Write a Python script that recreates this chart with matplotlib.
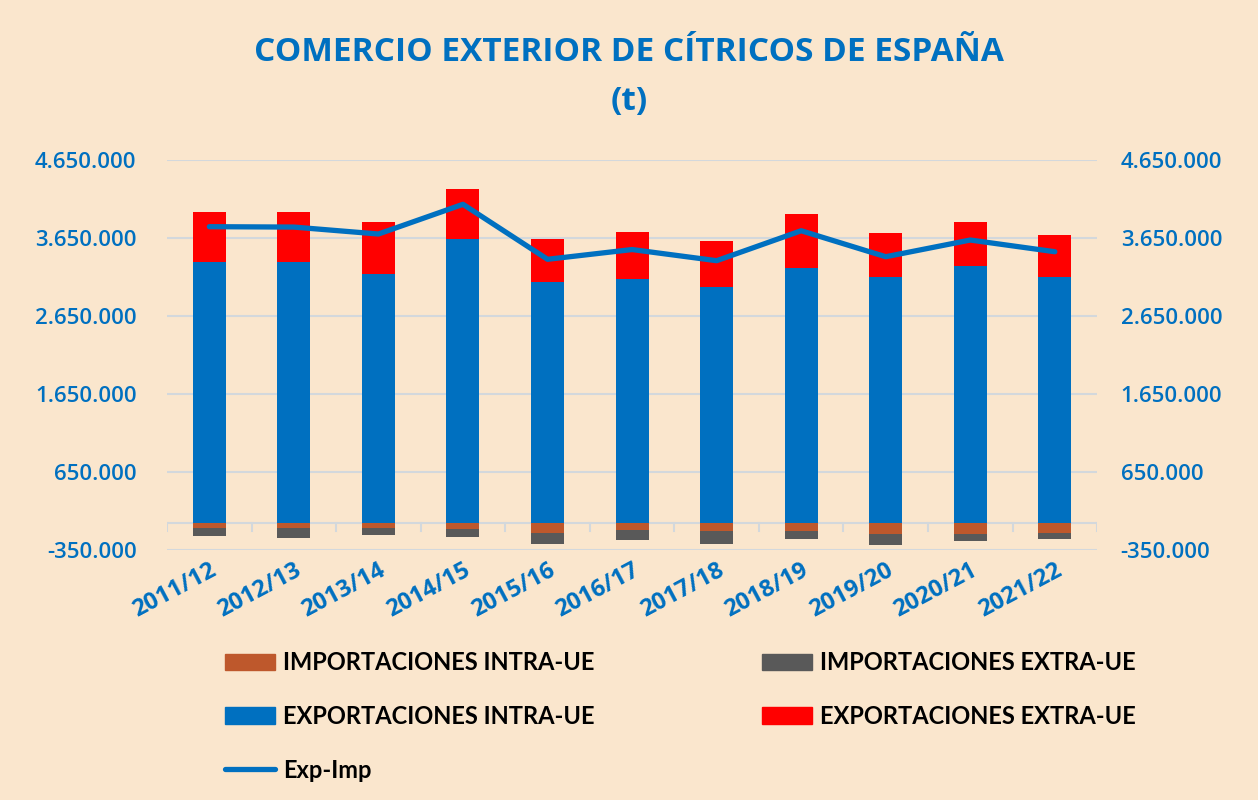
import numpy as np
import matplotlib
matplotlib.use('Agg')
import matplotlib.pyplot as plt
from matplotlib.patches import Patch
from matplotlib.lines import Line2D
from matplotlib.ticker import FuncFormatter

campaigns = ['2011/12', '2012/13', '2013/14', '2014/15', '2015/16', '2016/17',
             '2017/18', '2018/19', '2019/20', '2020/21', '2021/22']
exp_intra = [3346000, 3346000, 3184000, 3641000, 3086000, 3120000,
             3018000, 3265000, 3146000, 3295000, 3146000]
exp_extra = [641000, 641000, 671000, 641000, 555000, 603000,
             593000, 693000, 564000, 560000, 546000]
imp_intra = [-62000, -67000, -62000, -79000, -126000, -96000,
             -109000, -105000, -143000, -143000, -126000]
imp_extra = [-111000, -123000, -95000, -110000, -146000, -128000,
             -162000, -98000, -149000, -98000, -82000]
exp_imp = [3795000, 3790000, 3701000, 4082000, 3377000, 3502000,
           3359000, 3743000, 3410000, 3624000, 3474000]
yticks = [-350000, 650000, 1650000, 2650000, 3650000, 4650000]

BG = '#FAE6CD'
BLUE = '#0070C0'
RED = '#FF0000'
ORANGE = '#BE582C'
GREY = '#595959'
GRID = '#D3D8DC'
FONT = ['Open Sans', 'DejaVu Sans']
LEGFONT = {'family': ['Lato', 'DejaVu Sans'], 'weight': 'bold', 'size': 17}

def miles(v, pos=None):
    return '{:,.0f}'.format(v).replace(',', '.')

fig = plt.figure(figsize=(12.58, 8), dpi=100, facecolor=BG)
ax = fig.add_axes([0.1328, 0.3125, 0.7393, 0.4875])
ax.set_facecolor(BG)

x = np.arange(len(campaigns))
w = 0.39
ax.bar(x, imp_intra, w, color=ORANGE, zorder=3)
ax.bar(x, imp_extra, w, bottom=imp_intra, color=GREY, zorder=3)
ax.bar(x, exp_intra, w, color=BLUE, zorder=3)
ax.bar(x, exp_extra, w, bottom=exp_intra, color=RED, zorder=3)
ax.plot(x, exp_imp, color=BLUE, lw=3.8, solid_capstyle='round', zorder=4)

ax.set_xlim(-0.5, len(campaigns) - 0.5)
ax.set_ylim(-350000, 4650000)
ax.set_yticks(yticks)
ax.yaxis.set_major_formatter(FuncFormatter(miles))
ax.grid(axis='y', color=GRID, lw=1.5, zorder=0)
ax.set_axisbelow(True)
for s in ax.spines.values():
    s.set_visible(False)

# zero axis with category boundary ticks
ax.axhline(0, color=GRID, lw=1.5, zorder=2)
for b in np.arange(-0.5, len(campaigns), 1.0):
    ax.plot([b, b], [0, -110000], color=GRID, lw=1.5, zorder=2)

ax.set_xticks(x)
ax.set_xticklabels(campaigns, rotation=28, ha='right', rotation_mode='anchor',
                   color=BLUE, fontsize=17, fontweight='bold', family=FONT)
ax.tick_params(axis='x', length=0, pad=6)

ax2 = ax.twinx()
ax2.set_ylim(ax.get_ylim())
ax2.set_yticks(yticks)
ax2.yaxis.set_major_formatter(FuncFormatter(miles))
for s in ax2.spines.values():
    s.set_visible(False)

ax.tick_params(axis='y', length=0, pad=22, labelcolor=BLUE, labelsize=16)
ax2.tick_params(axis='y', length=0, pad=17, labelcolor=BLUE, labelsize=16)
for lb in ax.get_yticklabels() + ax2.get_yticklabels():
    lb.set_family(FONT)
    lb.set_fontweight(600)

fig.text(0.5, 0.934, 'COMERCIO EXTERIOR DE CÍTRICOS DE ESPAÑA', ha='center', va='center',
         color=BLUE, fontsize=24, fontweight='bold', family=FONT)
fig.text(0.5, 0.873, '(t)', ha='center', va='center',
         color=BLUE, fontsize=24, fontweight='bold', family=FONT)

leg_kw = dict(loc='upper left', frameon=False, borderpad=0, borderaxespad=0,
              handlelength=2.1, handleheight=0.7, handletextpad=0.35,
              labelspacing=1.3, prop=LEGFONT)
col1 = fig.legend([Patch(color=ORANGE), Patch(color=BLUE),
                   Line2D([], [], color=BLUE, lw=3.8, solid_capstyle='round')],
                  ['IMPORTACIONES INTRA-UE', 'EXPORTACIONES INTRA-UE', 'Exp-Imp'],
                  bbox_to_anchor=(0.1789, 0.186), **leg_kw)
col2 = fig.legend([Patch(color=GREY), Patch(color=RED)],
                  ['IMPORTACIONES EXTRA-UE', 'EXPORTACIONES EXTRA-UE'],
                  bbox_to_anchor=(0.6057, 0.186), **leg_kw)

fig.savefig('out.png', dpi=100, facecolor=BG)
